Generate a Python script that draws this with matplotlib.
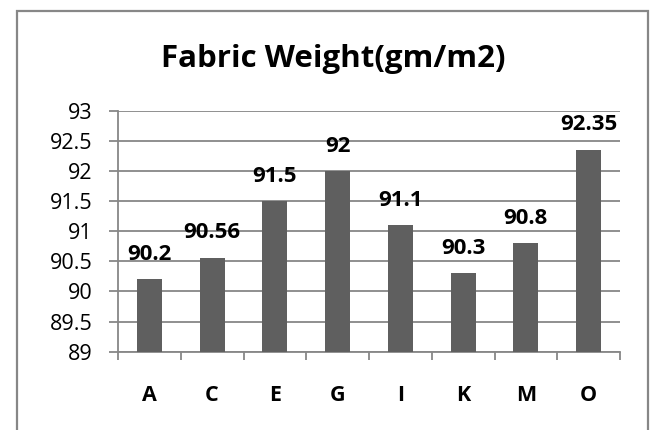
import numpy as np
import matplotlib
matplotlib.use("Agg")
import matplotlib.pyplot as plt
from matplotlib.patches import Rectangle

# fabric samples and their measured weight
samples = ["A", "C", "E", "G", "I", "K", "M", "O"]
weights = [90.2, 90.56, 91.5, 92, 91.1, 90.3, 90.8, 92.35]
y_ticks = [89, 89.5, 90, 90.5, 91, 91.5, 92, 92.5, 93]
y_labels = ["89", "89.5", "90", "90.5", "91", "91.5", "92", "92.5", "93"]

plt.rcParams["font.family"] = ["Open Sans", "DejaVu Sans"]

grey = "#878787"
bar_col = "#5f5f5f"

fig = plt.figure(figsize=(6.51, 4.30), dpi=100)
fig.patch.set_facecolor("white")

# outer chart frame (bottom edge runs off the image)
fig.patches.append(Rectangle((17 / 651, -0.05), (648 - 17) / 651, 1.05 - 11 / 430,
                             transform=fig.transFigure, fill=False,
                             edgecolor=grey, linewidth=1.6))

ax = fig.add_axes([118 / 651, 1 - 351.7 / 430, (620 - 118) / 651, (351.7 - 110.7) / 430])

x = np.arange(len(samples))
ax.bar(x, weights, width=0.4, color=bar_col, zorder=3)

ax.set_xlim(-0.5, len(samples) - 0.5)
ax.set_ylim(89, 93)
ax.set_yticks(y_ticks)
ax.set_yticklabels(y_labels)
ax.yaxis.grid(True, color=grey, linewidth=1.3, zorder=0)

ax.set_xticks(x)
ax.set_xticklabels(samples, fontweight="bold")
ax.set_xticks(np.arange(len(samples) + 1) - 0.5, minor=True)
ax.tick_params(axis="x", which="major", length=0, pad=24, labelsize=15.5)
ax.tick_params(axis="x", which="minor", length=5.5, width=1.3, color=grey)
ax.tick_params(axis="y", length=6.3, width=1.3, color=grey, pad=12, labelsize=15.5)

for side in ["top", "right"]:
    ax.spines[side].set_visible(False)
for side in ["left", "bottom"]:
    ax.spines[side].set_color(grey)
    ax.spines[side].set_linewidth(1.3)

for xi, w in zip(x, weights):
    ax.annotate(f"{w:g}", (xi, w), xytext=(0, 14), textcoords="offset points",
                ha="center", va="baseline", fontsize=16, fontweight="bold")

fig.text(333 / 651, 1 - 67 / 430, "Fabric Weight(gm/m2)", ha="center", va="baseline",
         fontsize=22.5, fontweight="bold")

fig.savefig("out.png", dpi=100)
